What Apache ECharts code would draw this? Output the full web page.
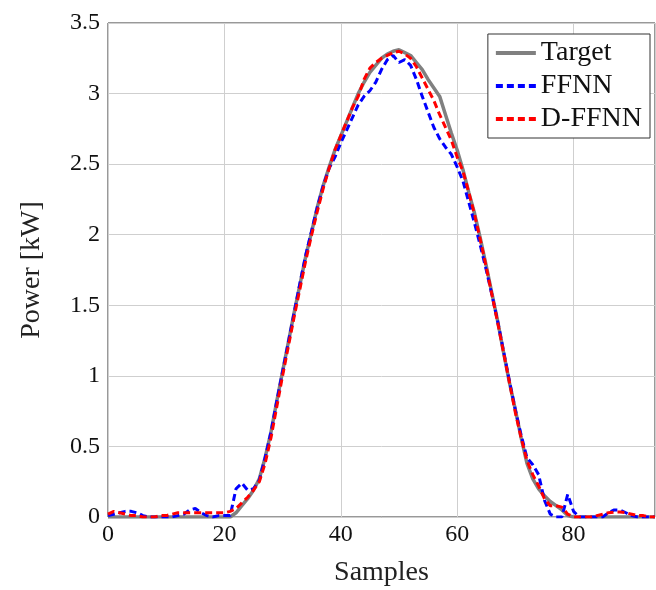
<!DOCTYPE html>
<html>
<head>
<meta charset="utf-8">
<script src="https://cdn.jsdelivr.net/npm/echarts@6/dist/echarts.min.js"></script>
<style>
  html, body { margin: 0; padding: 0; background: #fff; }
  #chart { width: 656px; height: 590px; }
</style>
</head>
<body>
<div id="chart"></div>
<script>
// samples 0..94
var target = [0,0,0,0,0,0,0,0,0,0, 0,0,0,0,0,0,0,0,0,0,
  0,0,0.03,0.08,0.13,0.19,0.27,0.42,0.6,0.82,
  1.03,1.24,1.45,1.65,1.85,2.02,2.2,2.35,2.48,2.6,
  2.7,2.8,2.9,3.0,3.08,3.15,3.2,3.25,3.28,3.3,
  3.31,3.29,3.27,3.22,3.17,3.1,3.04,2.98,2.85,2.72,
  2.6,2.46,2.3,2.15,1.97,1.78,1.58,1.38,1.16,0.95,
  0.76,0.56,0.38,0.27,0.2,0.15,0.11,0.08,0.05,0.01,
  0,0,0,0,0,0,0,0,0,0, 0,0,0,0,0];

var ffnn = [0.01,0.02,0.03,0.04,0.04,0.03,0.01,0,0,0,
  0,0,0.01,0.02,0.05,0.06,0.03,0.01,0,0.01,
  0.01,0.01,0.2,0.24,0.19,0.2,0.26,0.42,0.6,0.82,
  1.03,1.24,1.45,1.66,1.86,2.03,2.2,2.35,2.47,2.55,
  2.65,2.74,2.83,2.92,2.98,3.02,3.08,3.17,3.24,3.27,
  3.22,3.24,3.2,3.1,2.98,2.87,2.76,2.68,2.62,2.57,
  2.48,2.38,2.23,2.08,1.92,1.75,1.57,1.38,1.17,0.96,
  0.76,0.58,0.42,0.37,0.3,0.12,0.02,0,0,0.16,
  0.04,0,0,0,0,0,0.03,0.05,0.05,0.03, 0.01,0,0,0,0];

var dffnn = [0.02,0.04,0.03,0.02,0.01,0.01,0,0,0,0.01,
  0.01,0.02,0.03,0.03,0.03,0.03,0.03,0.03,0.03,0.03,
  0.03,0.04,0.06,0.1,0.14,0.19,0.25,0.38,0.56,0.78,
  1.0,1.21,1.42,1.62,1.82,2.0,2.17,2.33,2.47,2.6,
  2.7,2.8,2.9,2.98,3.1,3.18,3.22,3.25,3.27,3.29,
  3.3,3.28,3.25,3.19,3.11,3.03,2.95,2.85,2.76,2.67,
  2.55,2.45,2.3,2.14,1.96,1.77,1.57,1.37,1.16,0.95,
  0.74,0.56,0.4,0.3,0.22,0.13,0.08,0.08,0.07,0.02,
  0,0,0,0,0.01,0.02,0.03,0.035,0.035,0.03, 0.02,0.01,0.01,0,0];

var xTicks = [0, 20, 40, 60, 80];
var yTicks = [0, 0.5, 1, 1.5, 2, 2.5, 3, 3.5];

function pairs(arr) {
  return arr.map(function (v, i) { return [i, v]; });
}

var font = 'Liberation Serif';
var solidIcon = 'path://M0,0 L40,0 L40,4 L0,4 Z';
var dashIcon = 'path://M0,0 h7 v4 h-7 Z M11,0 h7 v4 h-7 Z M22,0 h7 v4 h-7 Z M33,0 h7 v4 h-7 Z';

var chart = echarts.init(document.getElementById('chart'), null, { renderer: 'canvas' });

var option = {
  backgroundColor: '#fff',
  animation: false,
  grid: {
    left: 108, right: 1, top: 23, bottom: 73,
    outerBoundsMode: 'none',
    show: true, borderColor: '#333', borderWidth: 1
  },
  legend: {
    right: 6, top: 34,
    orient: 'vertical',
    itemWidth: 40, itemHeight: 4, itemGap: 5,
    padding: [5, 8, 5, 8],
    borderColor: '#333', borderWidth: 1,
    backgroundColor: '#fff',
    textStyle: { fontFamily: font, fontSize: 28, color: '#111' },
    data: [
      { name: 'Target', icon: solidIcon },
      { name: 'FFNN', icon: dashIcon },
      { name: 'D-FFNN', icon: dashIcon }
    ]
  },
  xAxis: {
    type: 'value', min: 0, max: 94, interval: 20,
    name: 'Samples', nameLocation: 'middle', nameGap: 42,
    nameTextStyle: { fontFamily: font, fontSize: 28, color: '#222' },
    axisLine: { show: false },
    axisTick: { show: false },
    axisLabel: {
      fontFamily: font, fontSize: 24, color: '#111', margin: 6,
      showMaxLabel: false,
      formatter: function (v) { return xTicks.indexOf(v) >= 0 ? String(v) : ''; }
    },
    splitLine: { lineStyle: { color: '#cfcfcf', width: 1 } }
  },
  yAxis: {
    type: 'value', min: 0, max: 3.5, interval: 0.5,
    name: 'Power [kW]', nameLocation: 'middle', nameGap: 62,
    nameTextStyle: { fontFamily: font, fontSize: 28, color: '#222' },
    axisLine: { show: false },
    axisTick: { show: false },
    axisLabel: {
      fontFamily: font, fontSize: 24, color: '#111', margin: 8,
      formatter: function (v) { return yTicks.indexOf(v) >= 0 ? String(v) : ''; }
    },
    splitLine: { lineStyle: { color: '#cfcfcf', width: 1 } }
  },
  series: [
    {
      name: 'Target', type: 'line', data: pairs(target),
      showSymbol: false, symbol: 'none',
      itemStyle: { color: '#808080' },
      lineStyle: { color: '#808080', width: 3.5 },
      z: 2
    },
    {
      name: 'FFNN', type: 'line', data: pairs(ffnn),
      showSymbol: false, symbol: 'none',
      itemStyle: { color: '#0000ff' },
      lineStyle: { color: '#0000ff', width: 3, type: [7, 4] },
      z: 3
    },
    {
      name: 'D-FFNN', type: 'line', data: pairs(dffnn),
      showSymbol: false, symbol: 'none',
      itemStyle: { color: '#ff0000' },
      lineStyle: { color: '#ff0000', width: 3, type: [7, 4] },
      z: 4
    }
  ]
};

chart.setOption(option);
window.addEventListener('resize', chart.resize);
</script>
</body>
</html>
